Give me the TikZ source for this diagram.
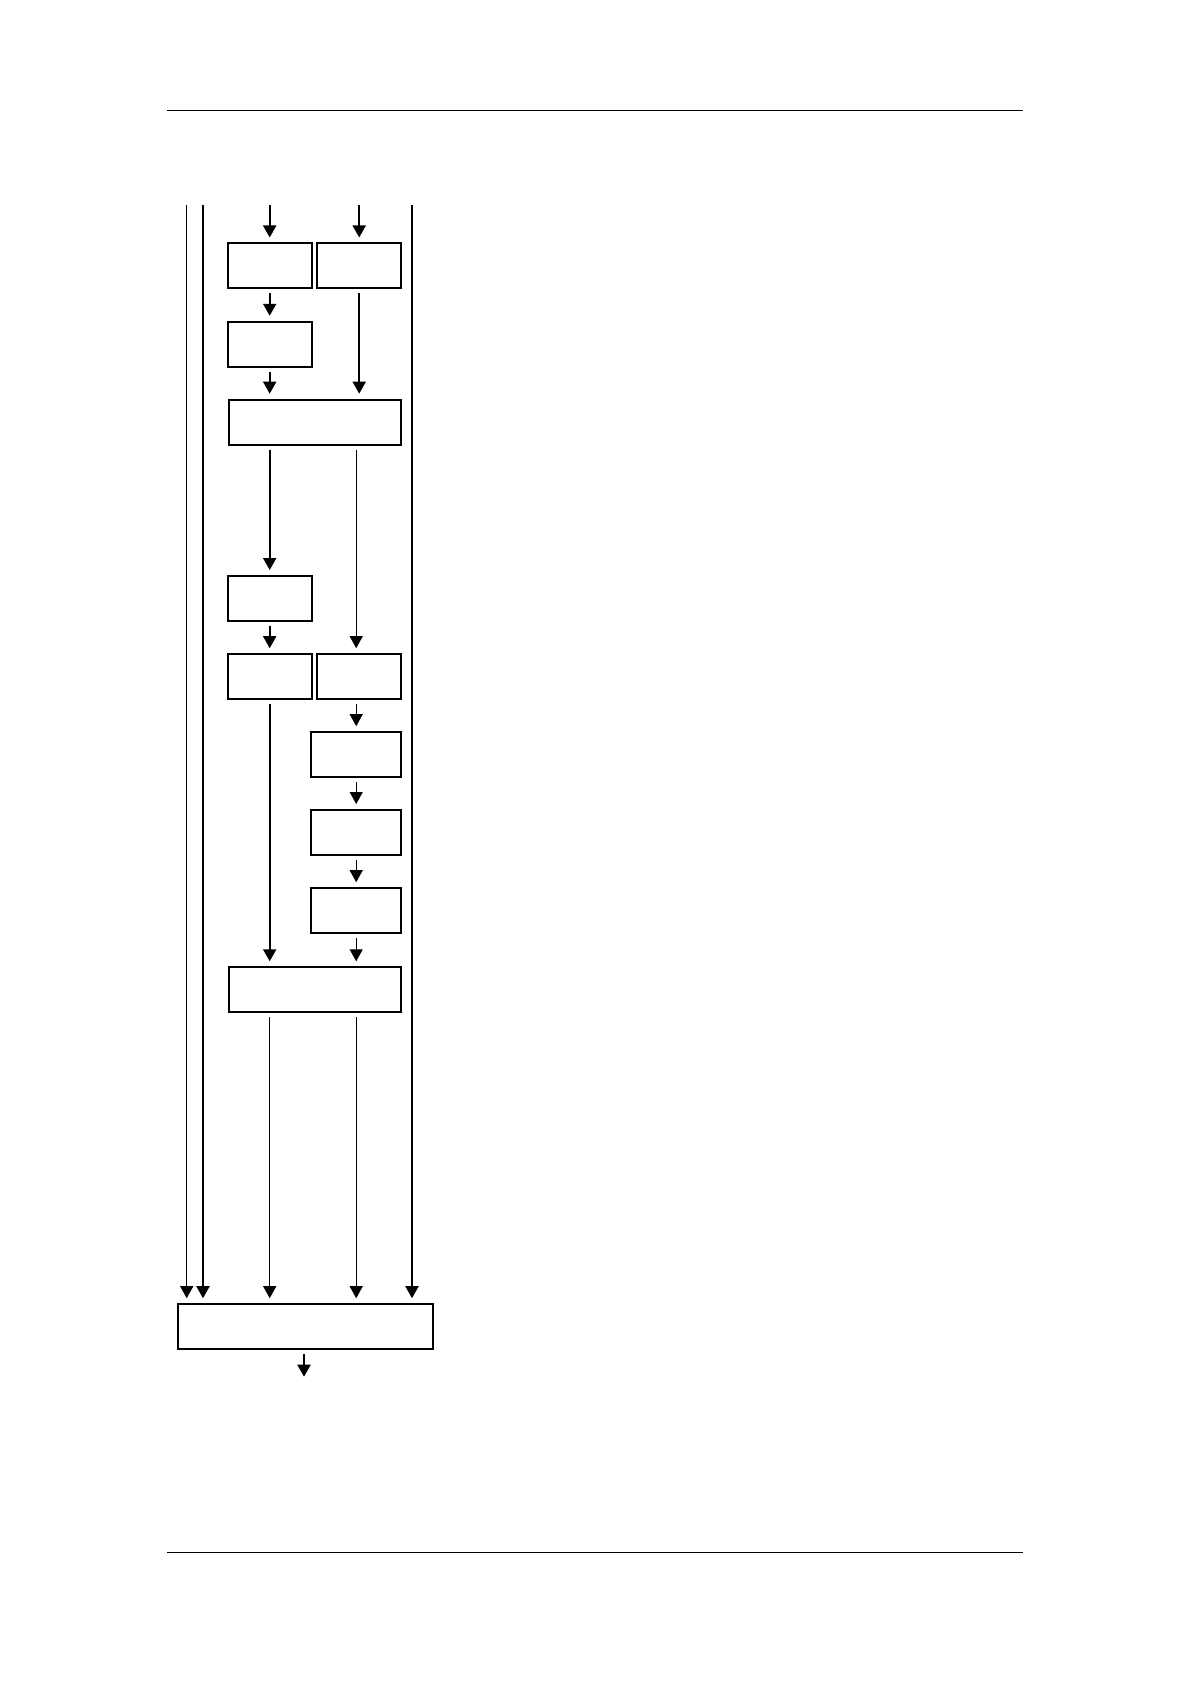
\documentclass[tikz,border=0pt]{standalone}
\usetikzlibrary{arrows.meta}
\begin{document}
\begin{tikzpicture}[x=0.5pt,y=-0.5pt,
    blk/.style={draw, line width=1pt, inner sep=0pt, outer sep=0pt,
        minimum width=42pt, minimum height=22.5pt},
    thk/.style={line width=1pt, -{Triangle[width=6.5pt,length=6pt]},
        shorten <=2.5pt, shorten >=3pt},
    thn/.style={thk, line width=0.5pt}]
    \useasboundingbox (0,0) rectangle (1190,1684);
    % page rules
    \draw[line width=0.5pt] (167.3,111) -- (1022.7,111);
    \draw[line width=0.5pt] (167.3,1552.3) -- (1022.7,1552.3);
    % boxes
    \node[blk] (A) at (269.7,266) {};
    \node[blk] (B) at (359.2,266) {};
    \node[blk] (C) at (269.7,344.3) {};
    \node[blk, minimum width=86pt] (D) at (314.9,422.2) {};
    \node[blk] (E) at (269.7,598.5) {};
    \node[blk] (F) at (269.7,676.7) {};
    \node[blk] (G) at (359.2,676.7) {};
    \node[blk, minimum width=45pt] (H) at (356.2,754.7) {};
    \node[blk, minimum width=45pt] (I) at (356.2,832.5) {};
    \node[blk, minimum width=45pt] (J) at (356.2,910.7) {};
    \node[blk, minimum width=86pt] (K) at (315.2,989.8) {};
    \node[blk, minimum width=127.5pt] (Out) at (305.2,1326.7) {};
    % inputs
    \coordinate (inA) at (269.7,205);
    \coordinate (inB) at (359.2,205);
    \draw[thk, shorten <=0pt] (inA) -- (A.north);
    \draw[thk, shorten <=0pt] (inB) -- (B.north);
    \draw[thk] (A.south) -- (C.north);
    \draw[thk] (C.south) -- (C.south |- D.north);
    \draw[thk] (B.south) -- (B.south |- D.north);
    \draw[thk] (D.south -| E.north) -- (E.north);
    \draw[thn] (D.south -| H.north) -- (H.north |- G.north);
    \draw[thk] (E.south) -- (F.north);
    \draw[thn] (G.south -| H.north) -- (H.north);
    \draw[thn] (H.south) -- (I.north);
    \draw[thn] (I.south) -- (J.north);
    \draw[thn] (J.south) -- (J.south |- K.north);
    \draw[thk] (F.south) -- (F.south |- K.north);
    \draw[thn] (K.south -| F.south) -- (F.south |- Out.north);
    \draw[thn] (K.south -| J.south) -- (J.south |- Out.north);
    % long lines
    \foreach \n/\x/\w in {p/186.7/0.5, q/203/1, r/412/1} {
        \coordinate (\n) at (\x,205);
        \draw[thk, line width=\w pt, shorten <=0pt] (\n) -- (\n |- Out.north);
    }
    % output
    \coordinate (res) at (304,1376.7);
    \draw[thk, shorten >=0pt] (Out.south -| res) -- (res);
\end{tikzpicture}
\end{document}
